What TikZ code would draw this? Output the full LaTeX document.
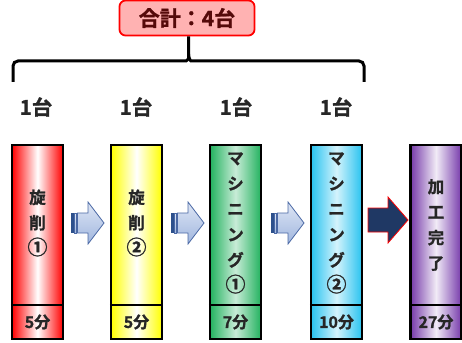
\documentclass[tikz,border=0pt]{standalone}
\usepackage{fontspec}
\setmainfont{Noto Sans CJK JP}[BoldFont={Noto Sans CJK JP Bold}, BoldFeatures={FakeBold=1.2}]
\usetikzlibrary{calc}
\definecolor{cred}{RGB}{255,0,0}
\definecolor{cyel}{RGB}{255,255,0}
\definecolor{cgrn}{RGB}{35,178,95}
\definecolor{cblu}{RGB}{40,195,240}
\definecolor{cpur}{RGB}{118,58,170}
\definecolor{boxfill}{RGB}{255,178,178}
\definecolor{boxtext}{RGB}{85,10,10}
\definecolor{arrline}{RGB}{75,105,165}
\definecolor{arrtop}{RGB}{222,230,245}
\definecolor{arrbot}{RGB}{160,182,222}
\definecolor{arrdark}{RGB}{45,80,140}
\definecolor{navy}{RGB}{31,56,100}
\newcommand{\circnum}[1]{{\fontsize{20}{25.5}\selectfont #1}}
\tikzset{
  colbox/.style={draw=black, line width=2.2pt, minimum width=51pt, minimum height=194pt, inner sep=0pt},
  vtext/.style={font=\bfseries\fontsize{16.5}{25.5}\selectfont, align=center, inner sep=0pt, text=black!85},
  tlabel/.style={font=\bfseries\fontsize{16}{16}\selectfont, inner sep=0pt, text=black!85},
  unit/.style={font=\bfseries\fontsize{20.5}{20.5}\selectfont, inner sep=0pt, text=black!85},
  blockarr/.style={draw=arrline, line width=0.8pt, top color=arrtop, bottom color=arrbot, line join=miter},
}
\newcommand{\stripedarrow}[1]{%
  \begin{scope}[xshift=#1]
    \fill[arrdark] (0,213) rectangle (2.5,233);
    \draw[blockarr] (3.5,213) rectangle (5.5,233);
    \draw[blockarr] (6.5,213) -- (17,213) -- (17,202) -- (33,223) -- (17,244) -- (17,233) -- (6.5,233) -- cycle;
  \end{scope}}
\begin{document}
\begin{tikzpicture}[x=1pt,y=-1pt]
\useasboundingbox (0,0) rectangle (462,342);
% total box
\node[draw=red, line width=1.8pt, fill=boxfill, rounded corners=6pt, minimum width=135pt, minimum height=35pt, inner sep=0pt,
      font=\bfseries\fontsize{21}{21}\selectfont, text=boxtext] (total) at (187,18) {合計：4台};
% brace
\draw[line width=3pt, rounded corners=5pt] (13,82) -- (13,61) -- (181,61)
  .. controls (186,61) and (188.5,59) .. (188.5,54) -- (total.south -| 188.5,0);
\draw[line width=3pt, rounded corners=5pt] (364,82) -- (364,61) -- (196,61)
  .. controls (191,61) and (188.5,59) .. (188.5,54);
% unit labels
\node[unit] (u1) at (36,107) {1台};
\node[unit] (u2) at (136,107) {1台};
\node[unit] (u3) at (236,107) {1台};
\node[unit] (u4) at (336,107) {1台};
% columns
\node[colbox, left color=cred, right color=cred, middle color=white] (c1) at (37.5,242) {};
\node[colbox, left color=cyel, right color=cyel, middle color=white] (c2) at (136.5,242) {};
\node[colbox, left color=cgrn, right color=cgrn, middle color=cgrn!25] (c3) at (235.5,242) {};
\node[colbox, left color=cblu, right color=cblu, middle color=cblu!20] (c4) at (336.5,242) {};
\node[colbox, left color=cpur, right color=cpur, middle color=cpur!10] (c5) at (436,242) {};
\foreach \c in {c1,c2,c3,c4,c5}{
  \draw[line width=2.2pt] ($(\c.south west)+(0,-35)$) -- ($(\c.south east)+(0,-35)$);
}
% vertical texts
\node[vtext] (v1) at (37.5,223) {旋\\削\\\circnum{①}};
\node[vtext] (v2) at (136.5,223) {旋\\削\\\circnum{②}};
\node[vtext] (v3) at (235.5,223) {マ\\シ\\ニ\\ン\\グ\\\circnum{①}};
\node[vtext] (v4) at (336.5,223) {マ\\シ\\ニ\\ン\\グ\\\circnum{②}};
\node[vtext] (v5) at (436,225) {加\\工\\完\\了};
% times
\node[tlabel] (t1) at (37.5,322) {5分};
\node[tlabel] (t2) at (136.5,322) {5分};
\node[tlabel] (t3) at (235.5,322) {7分};
\node[tlabel] (t4) at (336.5,322) {10分};
\node[tlabel] (t5) at (436,322) {27分};
% arrows
\stripedarrow{71}
\stripedarrow{171}
\stripedarrow{271}
\draw[draw=red, line width=0.8pt, fill=navy, line join=miter] (368,208) -- (388,208) -- (388,197) -- (408,220) -- (388,243) -- (388,232) -- (368,232) -- cycle;
\end{tikzpicture}
\end{document}
